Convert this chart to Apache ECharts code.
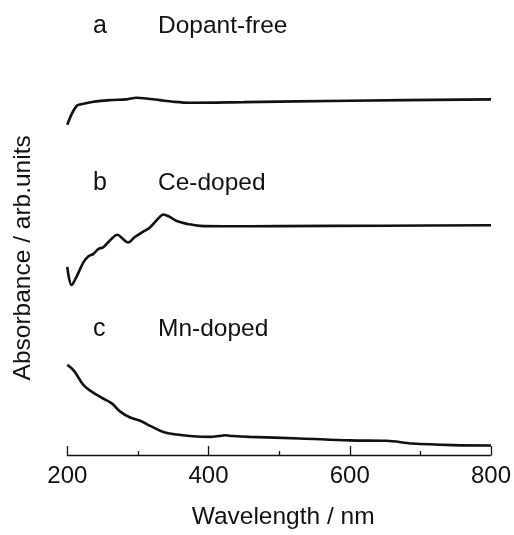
<!DOCTYPE html>
<html>
<head>
<meta charset="utf-8">
<script src="https://cdn.jsdelivr.net/npm/echarts@6/dist/echarts.min.js"></script>
<style>
html,body{margin:0;padding:0;background:#fff;}
#chart{width:514px;height:535px;}
</style>
</head>
<body>
<div id="chart"></div>
<script>
// Wavelength (nm) and offset absorbance (arb. units)
const wlA = [200, 206, 213, 218, 237, 260, 284, 298, 312, 331, 350, 374, 450, 600, 800];
const absA = [83.75, 86.4, 88.5, 88.9, 89.6, 90.0, 90.2, 90.6, 90.4, 90.0, 89.6, 89.35, 89.5, 89.85, 90.2];

const wlB = [200, 206, 213, 223, 230, 237, 244, 251, 260, 271, 279, 286, 296, 307, 317, 331, 336, 345, 355, 373, 388, 420, 500, 650, 800];
const absB = [47.7, 43.1, 45.2, 48.9, 50.4, 51.0, 52.25, 52.7, 54.35, 55.85, 54.75, 53.9, 55.35, 56.6, 57.7, 60.4, 61.0, 60.4, 59.35, 58.5, 58.1, 58.0, 58.05, 58.15, 58.25];

const wlC = [200, 206, 211, 223, 235, 249, 263, 275, 289, 303, 319, 336, 355, 378, 402, 415, 423, 435, 458, 529, 600, 652, 689, 746, 800];
const absC = [22.85, 22.0, 21.0, 17.7, 16.0, 14.5, 13.1, 11.0, 9.5, 8.7, 7.25, 5.85, 5.2, 4.75, 4.6, 4.8, 5.0, 4.8, 4.6, 4.2, 3.7, 3.6, 2.9, 2.5, 2.4];

const sampleLetters = ['a', 'b', 'c'];
const sampleNames = ['Dopant-free', 'Ce-doped', 'Mn-doped'];
const xTicks = [200, 400, 600, 800];
const xTitle = 'Wavelength / nm';
const yTitle = 'Absorbance / arb.units';

function pairs(xs, ys) { return xs.map((x, i) => [x, ys[i]]); }

const FONT = '"Liberation Sans", Arial, sans-serif';
const labelY = [28.5, 186, 332];

const graphics = [];
sampleLetters.forEach((l, i) => {
  graphics.push({type: 'text', left: 93, top: labelY[i] - 15, silent: true,
    style: {text: l, font: '25px ' + FONT, fill: '#111'}});
  graphics.push({type: 'text', left: 158, top: labelY[i] - 15, silent: true,
    style: {text: sampleNames[i], font: '24.5px ' + FONT, fill: '#111'}});
});

const chart = echarts.init(document.getElementById('chart'), null, {renderer: 'canvas'});
const lineStyle = {color: '#111', width: 2.6};
chart.setOption({
  animation: false,
  backgroundColor: '#fff',
  grid: {left: 67.3, right: 22.3, top: 60.7, bottom: 74.3},
  xAxis: {
    type: 'value', min: 200, max: 800, interval: 200,
    name: xTitle, nameLocation: 'middle', nameGap: 50,
    nameTextStyle: {fontFamily: FONT, fontSize: 24.5, color: '#111', padding: [0, 0, 0, 8]},
    axisLine: {lineStyle: {color: '#111', width: 1.3}},
    axisTick: {inside: true, length: 9, lineStyle: {color: '#111', width: 1.3}},
    minorTick: {show: true, splitNumber: 2, length: 4, lineStyle: {color: '#111', width: 1.3}},
    axisLabel: {fontFamily: FONT, fontSize: 24, color: '#111', margin: 9,
      formatter: v => xTicks.includes(v) ? String(v) : ''},
    splitLine: {show: false}
  },
  yAxis: {
    type: 'value', min: 0, max: 100,
    name: yTitle, nameLocation: 'middle', nameGap: 32, nameRotate: 90,
    nameTextStyle: {fontFamily: FONT, fontSize: 24.5, color: '#111'},
    axisLine: {show: false}, axisTick: {show: false}, axisLabel: {show: false},
    splitLine: {show: false}
  },
  graphic: graphics,
  series: [
    {type: 'line', data: pairs(wlA, absA), smooth: 0.35, showSymbol: false, lineStyle: lineStyle, silent: true},
    {type: 'line', data: pairs(wlB, absB), smooth: 0.35, showSymbol: false, lineStyle: lineStyle, silent: true},
    {type: 'line', data: pairs(wlC, absC), smooth: 0.35, showSymbol: false, lineStyle: lineStyle, silent: true}
  ]
});
</script>
</body>
</html>
